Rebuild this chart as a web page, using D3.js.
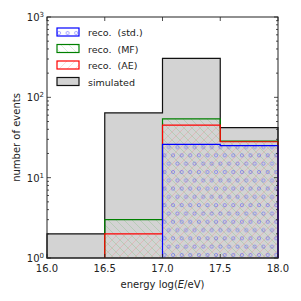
<!DOCTYPE html>
<html><head><meta charset="utf-8">
<script src="https://cdn.jsdelivr.net/npm/d3@7"></script>
<style>body{margin:0;background:#fff}svg{display:block}text{font-family:"DejaVu Sans",sans-serif;fill:#222}</style>
</head><body><svg id="c" width="301" height="301"></svg>
<script>
const binEdges = [16.0, 16.5, 17.0, 17.5, 18.0];
const simulated = [2, 64, 305, 42];
const recoStd = [0, 0, 26, 25];
const recoMF = [0, 3, 54, 28.5];
const recoAE = [0, 2, 45, 28];
const xTicks = [16.0, 16.5, 17.0, 17.5, 18.0];
const yTicks = [1, 10, 100, 1000];
const legendLabels = ["reco.  (std.)", "reco.  (MF)", "reco.  (AE)", "simulated"];

const svg = d3.select("#c");
const m = {l: 47, r: 23, t: 17, b: 43};
const W = 301, H = 301;
const x = d3.scaleLinear().domain([16, 18]).range([m.l, W - m.r]);
const y = d3.scaleLog().domain([1, 1000]).range([H - m.b, m.t]);

const defs = svg.append("defs");
function circlePattern(id, ox, oy) {
  const p = defs.append("pattern").attr("id", id).attr("patternUnits", "userSpaceOnUse")
    .attr("width", 8.6).attr("height", 16.6).attr("x", ox).attr("y", oy);
  [[0, 4], [4.3, 12.3], [8.6, 4]].forEach(c => p.append("circle").attr("cx", c[0]).attr("cy", c[1]).attr("r", 1.6)
    .attr("fill", "none").attr("stroke", "rgba(60,60,255,0.55)").attr("stroke-width", 0.8));
}
circlePattern("pStd", x(17) + 2, 2);
function linePattern(id, color, dir) {
  const p = defs.append("pattern").attr("id", id).attr("patternUnits", "userSpaceOnUse")
    .attr("width", 8).attr("height", 8);
  const segs = dir > 0 ? [[-2, 2, 2, -2], [0, 8, 8, 0], [6, 10, 10, 6]] : [[-2, 6, 2, 10], [0, 0, 8, 8], [6, -2, 10, 2]];
  segs.forEach(s => p.append("line").attr("x1", s[0]).attr("y1", s[1]).attr("x2", s[2]).attr("y2", s[3])
    .attr("stroke", color).attr("stroke-width", 0.7));
}
linePattern("pAE", "rgba(255,90,90,0.3)", 1);
linePattern("pMF", "rgba(40,170,40,0.25)", -1);

function stepPoints(vals) {
  const pts = [];
  let started = false;
  vals.forEach((v, i) => {
    if (v > 0) {
      if (!started) { pts.push([x(binEdges[i]), y(1)]); started = true; }
      pts.push([x(binEdges[i]), y(v)]);
      pts.push([x(binEdges[i + 1]), y(v)]);
    }
  });
  const lastI = vals.length - 1 - [...vals].reverse().findIndex(v => v > 0);
  pts.push([x(binEdges[lastI + 1]), y(1)]);
  return pts;
}
const line = d3.line();

const g = svg.append("g");
g.append("path").attr("d", line(stepPoints(simulated)) + "Z").attr("fill", "#d3d3d3").attr("stroke", "#111").attr("stroke-width", 1.2);
const recos = [
  {vals: recoMF, pat: "url(#pMF)", col: "#008000"},
  {vals: recoAE, pat: "url(#pAE)", col: "#ff0000"},
  {vals: recoStd, pat: "url(#pStd)", col: "#0000ff"}
];
recos.forEach(r => {
  g.append("path").attr("d", line(stepPoints(r.vals)) + "Z").attr("fill", r.pat).attr("stroke", "none");
});
recos.forEach(r => {
  g.append("path").attr("d", line(stepPoints(r.vals))).attr("fill", "none").attr("stroke", r.col).attr("stroke-width", 1.2);
});

// frame
svg.append("rect").attr("x", m.l).attr("y", m.t).attr("width", W - m.l - m.r).attr("height", H - m.t - m.b)
  .attr("fill", "none").attr("stroke", "#222").attr("stroke-width", 1);

// ticks
const tk = svg.append("g").attr("stroke", "#222").attr("stroke-width", 0.8);
xTicks.forEach(t => {
  tk.append("line").attr("x1", x(t)).attr("x2", x(t)).attr("y1", y(1)).attr("y2", y(1) - 4);
  tk.append("line").attr("x1", x(t)).attr("x2", x(t)).attr("y1", y(1000)).attr("y2", y(1000) + 4);
});
const minor = [];
[1, 10, 100].forEach(d => { for (let k = 2; k <= 9; k++) minor.push(d * k); });
minor.forEach(v => {
  tk.append("line").attr("x1", m.l).attr("x2", m.l + 2).attr("y1", y(v)).attr("y2", y(v));
  tk.append("line").attr("x1", W - m.r).attr("x2", W - m.r - 2).attr("y1", y(v)).attr("y2", y(v));
});
yTicks.forEach(v => {
  tk.append("line").attr("x1", m.l).attr("x2", m.l + 4).attr("y1", y(v)).attr("y2", y(v));
  tk.append("line").attr("x1", W - m.r).attr("x2", W - m.r - 4).attr("y1", y(v)).attr("y2", y(v));
});

// tick labels
xTicks.forEach(t => {
  svg.append("text").attr("x", x(t)).attr("y", y(1) + 14).attr("text-anchor", "middle")
    .attr("font-size", 10).text(d3.format(".1f")(t));
});
yTicks.forEach(v => {
  const t = svg.append("text").attr("x", m.l - 3).attr("y", y(v) + 4).attr("text-anchor", "end").attr("font-size", 10);
  t.append("tspan").text("10");
  t.append("tspan").attr("font-size", 7).attr("dy", -4).text(Math.round(Math.log10(v)));
});

// axis labels
const xl = svg.append("text").attr("x", (m.l + W - m.r) / 2).attr("y", 288).attr("text-anchor", "middle").attr("font-size", 10);
xl.append("tspan").text("energy log(");
xl.append("tspan").attr("font-style", "italic").text("E");
xl.append("tspan").text("/eV)");
svg.append("text").attr("transform", `translate(20,${(m.t + H - m.b) / 2}) rotate(-90)`).attr("text-anchor", "middle")
  .attr("font-size", 10).text("number of events");

// legend
const legY0 = 28, legDy = 16.5;
circlePattern("pStdL", 57 + 2, legY0 + 5 - 4);
const legFill = ["url(#pStdL)", "url(#pMF)", "url(#pAE)", "#d3d3d3"];
const legCol = ["#0000ff", "#008000", "#ff0000", "#111"];
legendLabels.forEach((lab, i) => {
  const yy = legY0 + i * legDy;
  svg.append("rect").attr("x", 57).attr("y", yy).attr("width", 22).attr("height", 8).attr("fill", "#fff");
  svg.append("rect").attr("x", 57).attr("y", yy).attr("width", 22).attr("height", 8)
    .attr("fill", legFill[i]).attr("stroke", legCol[i]).attr("stroke-width", 1.2);
  svg.append("text").attr("x", 88).attr("y", yy + 8).attr("font-size", 9.5).style("white-space", "pre").text(lab);
});
</script></body></html>
